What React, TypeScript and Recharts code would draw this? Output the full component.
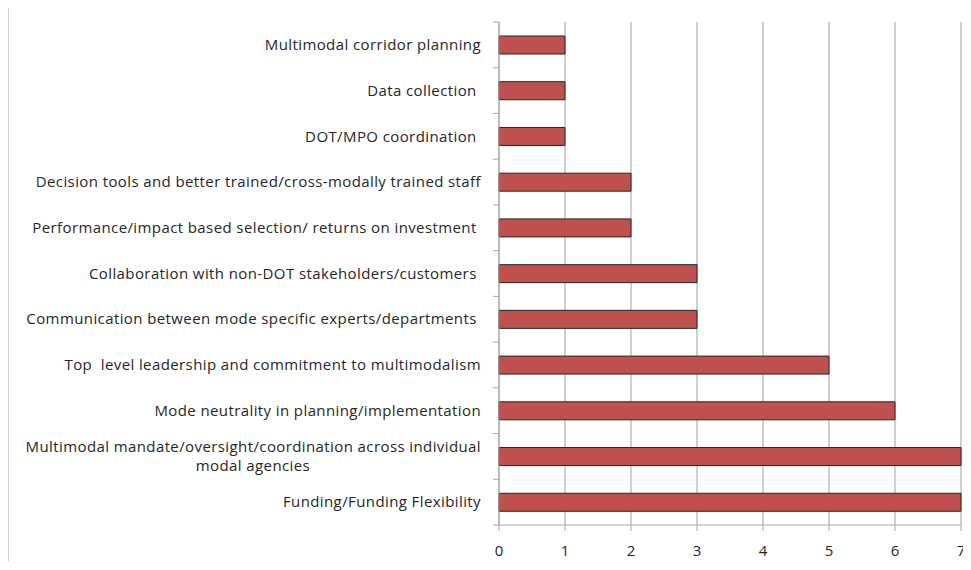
import { BarChart, Bar, XAxis, YAxis, CartesianGrid } from 'recharts'

const categories = [
  'Multimodal corridor planning',
  'Data collection ',
  'DOT/MPO coordination ',
  'Decision tools and better trained/cross-modally trained staff',
  'Performance/impact based selection/ returns on investment ',
  'Collaboration with non-DOT stakeholders/customers ',
  'Communication between mode specific experts/departments ',
  'Top  level leadership and commitment to multimodalism',
  'Mode neutrality in planning/implementation',
  'Multimodal mandate/oversight/coordination across individual|modal agencies',
  'Funding/Funding Flexibility',
]
const counts = [1, 1, 1, 2, 2, 3, 3, 5, 6, 7, 7]
const xTicks = [0, 1, 2, 3, 4, 5, 6, 7]

const data = categories.map((name, i) => ({ name, value: counts[i] }))

const CHART_W = 962
const CHART_H = 553
const TOP = 14
const X_AXIS_H = 36
const BAND = (CHART_H - TOP - X_AXIS_H) / categories.length
const FONT = '"Open Sans", Lato, sans-serif'
const FONT_SIZE = 15

function CategoryTick(props: any) {
  const { x, y, payload, index } = props
  const lines = String(payload.value).split('|')
  const textX = x - 18
  const lineH = 19
  const startY = y - ((lines.length - 1) * lineH) / 2
  const isLast = index === categories.length - 1
  // two-line label: first line right-aligned, second centred under it
  const centreX = textX - 228
  return (
    <g>
      <line x1={x - 6} x2={x} y1={y - BAND / 2} y2={y - BAND / 2} stroke="#a6a6a6" />
      {isLast && <line x1={x - 6} x2={x} y1={y + BAND / 2} y2={y + BAND / 2} stroke="#a6a6a6" />}
      <text
        y={startY}
        fill="#262626"
        fontSize={FONT_SIZE}
        fontFamily={FONT}
        letterSpacing={0.4}
        style={{ whiteSpace: 'pre' }}
      >
        {lines.map((l, i) => (
          <tspan
            key={i}
            x={i === 0 ? textX : centreX}
            dy={i === 0 ? '0.35em' : lineH}
            textAnchor={i === 0 ? 'end' : 'middle'}
          >
            {l}
          </tspan>
        ))}
      </text>
    </g>
  )
}

export default function App() {
  return (
    <div
      style={{
        borderLeft: '1px solid #d0d0d0',
        borderTop: '1px solid #d0d0d0',
        marginTop: -1,
        width: CHART_W,
        height: CHART_H,
      }}
    >
      <style>{'body{overflow:hidden}'}</style>
      <BarChart
        width={CHART_W}
        height={CHART_H}
        data={data}
        layout="vertical"
        margin={{ top: TOP, right: 10, left: 0, bottom: 0 }}
      >
        <CartesianGrid horizontal={false} vertical stroke="#bfbfbf" strokeWidth={1.5} />
        <XAxis
          type="number"
          domain={[0, 7]}
          ticks={xTicks}
          interval={0}
          height={X_AXIS_H}
          stroke="#a6a6a6"
          tickSize={6}
          tickMargin={14}
          tick={{ fill: '#262626', fontSize: FONT_SIZE, fontFamily: FONT }}
        />
        <YAxis
          type="category"
          dataKey="name"
          width={490}
          stroke="#a6a6a6"
          tickLine={false}
          tickMargin={0}
          tickSize={0}
          interval={0}
          tick={<CategoryTick />}
        />
        <Bar dataKey="value" fill="#c0504d" stroke="#262626" strokeWidth={1} barSize={18} isAnimationActive={false} />
      </BarChart>
    </div>
  )
}
